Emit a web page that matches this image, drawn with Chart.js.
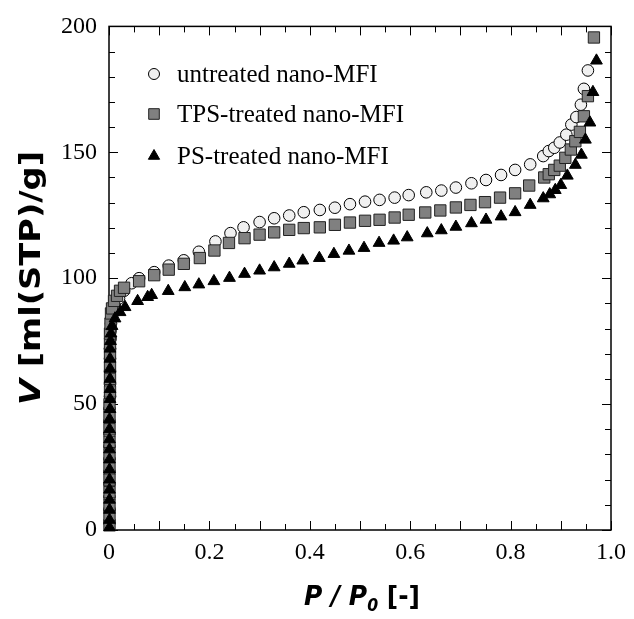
<!DOCTYPE html>
<html>
<head>
<meta charset="utf-8">
<script src="https://cdn.jsdelivr.net/npm/chart.js@4.4.1/dist/chart.umd.min.js"></script>
<style>
  html, body { margin: 0; padding: 0; background: #ffffff; }
  #wrap { width: 634px; height: 619px; position: relative; }
</style>
</head>
<body>
<div id="wrap"><canvas id="c"></canvas></div>
<script>
// ---- data ----
const seriesNames = ['untreated nano-MFI', 'TPS-treated nano-MFI', 'PS-treated nano-MFI'];

const untreatedP = [0.001,0.001,0.001,0.001,0.001,0.001,0.001,0.001,0.001,0.001,0.002,0.002,0.002,0.002,0.002,0.003,0.003,0.004,0.005,0.008,0.012,0.02,0.03,0.045,0.06,0.09,0.119,0.149,0.179,0.212,0.242,0.268,0.300,0.329,0.359,0.388,0.42,0.45,0.48,0.51,0.539,0.569,0.597,0.632,0.662,0.691,0.722,0.751,0.781,0.809,0.839,0.865,0.876,0.887,0.898,0.911,0.921,0.931,0.94,0.946,0.954];
const untreatedV = [3,8,13,18,23,28,33,38,43,48,53,58,63,68,72,76,79,82,84,86,89,92,95,98,100,102.4,105,107.1,110.5,114.6,117.9,120.2,122.3,123.8,124.9,126.2,127.1,128,129.4,130.4,131.1,132,133,134.1,134.8,136,137.7,139,141,143,145.2,148.5,150.5,151.8,153.9,157,161,164,168.9,175.2,182.5];

const tpsP = [0.001,0.001,0.001,0.001,0.001,0.001,0.001,0.001,0.001,0.001,0.001,0.002,0.002,0.002,0.002,0.002,0.002,0.003,0.004,0.006,0.01,0.016,0.022,0.03,0.06,0.09,0.119,0.149,0.181,0.21,0.239,0.27,0.3,0.329,0.359,0.388,0.42,0.45,0.48,0.51,0.539,0.569,0.597,0.63,0.66,0.691,0.72,0.749,0.779,0.809,0.837,0.867,0.876,0.887,0.898,0.909,0.92,0.929,0.938,0.946,0.954,0.966];
const tpsV = [2,6,10,15,20,25,30,35,40,45,50,55,60,65,70,74,78,82,86,88,91,93,95,96.2,98.8,101.2,103.4,105.7,108,111,114,115.9,117.3,118.2,119.2,119.9,120.2,121.2,122.1,122.8,123.2,124.1,125.2,126.1,126.9,128.1,129.1,130.2,132,133.7,136.8,140,141.3,143,144.7,147.8,151.1,154.4,158.1,164.3,172.3,195.6];

const psP = [0.001,0.001,0.001,0.001,0.001,0.001,0.001,0.001,0.001,0.001,0.001,0.001,0.002,0.002,0.002,0.002,0.002,0.002,0.002,0.003,0.004,0.006,0.012,0.022,0.032,0.057,0.077,0.085,0.118,0.151,0.179,0.209,0.24,0.27,0.3,0.329,0.359,0.386,0.419,0.448,0.478,0.508,0.538,0.567,0.594,0.634,0.662,0.691,0.722,0.751,0.781,0.809,0.839,0.865,0.878,0.889,0.9,0.913,0.929,0.941,0.949,0.958,0.964,0.971];
const psV = [1,4,8,12,16,20,24,28,32,36,40,44,48,52,56,60,64,68,72,75,78,81,84,86.5,88.5,90.9,92.5,93.3,94.9,96.4,97.5,98.8,100.1,101.7,103,104.3,105.7,107,108,109.6,110.9,112,114,114.9,116.2,117.8,119,120.4,121.8,123.2,124.5,126.2,129.1,131.7,133.3,135,137,140.7,145,149,155,161.8,173.9,186.4];

const xTickValues = [0, 0.2, 0.4, 0.6, 0.8, 1.0];
const yTickValues = [0, 50, 100, 150, 200];

function pts(px, py) { return px.map((p, i) => ({ x: p, y: py[i] })); }

const serif = "'Liberation Serif', 'Times New Roman', serif";
const heavy = "'DejaVu Sans', 'Liberation Sans', Arial, sans-serif";

// draw a run of [text, font, dy] pieces, stretched to a target width, centred at (cx, y)
function drawRun(ctx, parts, cx, y, targetW) {
  let total = 0;
  parts.forEach(p => { ctx.font = p[1]; total += ctx.measureText(p[0]).width; });
  const sx = targetW ? targetW / total : 1;
  ctx.save();
  ctx.translate(cx, y);
  ctx.scale(sx, 1);
  let x = -total / 2;
  parts.forEach(p => { ctx.font = p[1]; ctx.fillText(p[0], x, p[2]); x += ctx.measureText(p[0]).width; });
  ctx.restore();
}

const decor = {
  id: 'decor',
  beforeDatasetsDraw(chart) {
    const { ctx, chartArea: a, scales } = chart;
    const xs = scales.x, ys = scales.y;
    ctx.save();
    ctx.strokeStyle = '#000';
    ctx.lineWidth = 1;
    ctx.beginPath();
    for (let i = 0; i <= 20; i++) {
      const v = i * 0.05;
      const px = Math.round(xs.getPixelForValue(v)) + 0.5;
      const len = (i % 2 === 0) ? 9 : 6;
      ctx.moveTo(px, a.bottom); ctx.lineTo(px, a.bottom - len);
      ctx.moveTo(px, a.top); ctx.lineTo(px, a.top + len);
    }
    for (let i = 0; i <= 20; i++) {
      const v = i * 10;
      const py = Math.round(ys.getPixelForValue(v)) + 0.5;
      const len = (i % 5 === 0) ? 9 : 6;
      ctx.moveTo(a.left, py); ctx.lineTo(a.left + len, py);
      ctx.moveTo(a.right, py); ctx.lineTo(a.right - len, py);
    }
    ctx.stroke();
    ctx.lineWidth = 1.5;
    ctx.strokeRect(a.left, a.top, a.right - a.left, a.bottom - a.top);
    ctx.restore();
  },
  afterDraw(chart) {
    const { ctx, chartArea: a } = chart;
    ctx.save();
    // legend
    const rows = [74, 114, 156];
    const mx = 154;
    ctx.font = '25px ' + serif;
    ctx.textBaseline = 'middle';
    ctx.textAlign = 'left';
    for (let i = 0; i < 3; i++) {
      const ds = chart.data.datasets[i];
      const y = rows[i];
      ctx.fillStyle = ds.backgroundColor; ctx.strokeStyle = ds.borderColor;
      ctx.lineWidth = ds.borderWidth;
      ctx.beginPath();
      if (ds.pointStyle === 'circle') ctx.arc(mx, y, ds.legendRadius, 0, Math.PI * 2);
      else if (ds.pointStyle === 'rect') { const s = ds.legendRadius * Math.SQRT1_2; ctx.rect(mx - s, y - s, 2 * s, 2 * s); }
      else {
        const r = ds.legendRadius;
        ctx.moveTo(mx, y - r);
        ctx.lineTo(mx + r * Math.sin(2 * Math.PI / 3), y - r * Math.cos(2 * Math.PI / 3));
        ctx.lineTo(mx + r * Math.sin(4 * Math.PI / 3), y - r * Math.cos(4 * Math.PI / 3));
        ctx.closePath();
      }
      ctx.fill(); ctx.stroke();
      ctx.fillStyle = '#000';
      ctx.fillText(seriesNames[i], 177, y + 1);
    }
    ctx.fillStyle = '#000';
    ctx.textBaseline = 'alphabetic';
    ctx.textAlign = 'left';
    // x title: P / P0 [-]
    const cx = (a.left + a.right) / 2 + 2;
    drawRun(ctx, [['P / P', 'italic bold 27px ' + heavy, 0], ['0', 'italic bold 17px ' + heavy, 6], [' [-]', 'bold 27px ' + heavy, 0]], cx, 605, 116);
    // y title: V [ml(STP)/g]
    ctx.save();
    ctx.translate(40, 278);
    ctx.rotate(-Math.PI / 2);
    drawRun(ctx, [['V', 'italic bold 29px ' + heavy, 0], [' [ml(STP)/g]', 'bold 29px ' + heavy, 0]], 0, 0, 254);
    ctx.restore();
    ctx.restore();
  }
};

const chart = new Chart(document.getElementById('c'), {
  type: 'scatter',
  data: {
    datasets: [
      { label: seriesNames[0], data: pts(untreatedP, untreatedV), pointStyle: 'circle', pointRadius: 5.8, legendRadius: 5.5,
        backgroundColor: '#f0f0f0', borderColor: '#000', borderWidth: 1, order: 3, clip: false },
      { label: seriesNames[1], data: pts(tpsP, tpsV), pointStyle: 'rect', pointRadius: 8, legendRadius: 7.5,
        backgroundColor: '#808080', borderColor: '#222', borderWidth: 1, order: 2, clip: false },
      { label: seriesNames[2], data: pts(psP, psV), pointStyle: 'triangle', pointRadius: 6.8, legendRadius: 6.5,
        backgroundColor: '#000', borderColor: '#000', borderWidth: 1, order: 1, clip: false }
    ]
  },
  options: {
    responsive: true,
    maintainAspectRatio: false,
    animation: false,
    layout: { padding: { left: 0, right: 22, top: 24, bottom: 0 } },
    plugins: { legend: { display: false }, tooltip: { enabled: false } },
    scales: {
      x: {
        type: 'linear', min: 0, max: 1,
        afterFit: s => { s.height = 89; },
        afterBuildTicks: s => { s.ticks = xTickValues.map(v => ({ value: v })); },
        grid: { display: false, drawTicks: false },
        border: { display: false },
        ticks: { color: '#000', padding: 8, font: { family: serif, size: 24 },
          callback: v => (v === 0 ? '0' : Number(v).toFixed(1)) }
      },
      y: {
        type: 'linear', min: 0, max: 200,
        afterFit: s => { s.width = 109; },
        afterBuildTicks: s => { s.ticks = yTickValues.map(v => ({ value: v })); },
        grid: { display: false, drawTicks: false },
        border: { display: false },
        ticks: { color: '#000', padding: 12, font: { family: serif, size: 24 },
          callback: v => String(v) }
      }
    }
  },
  plugins: [decor]
});
</script>
</body>
</html>
